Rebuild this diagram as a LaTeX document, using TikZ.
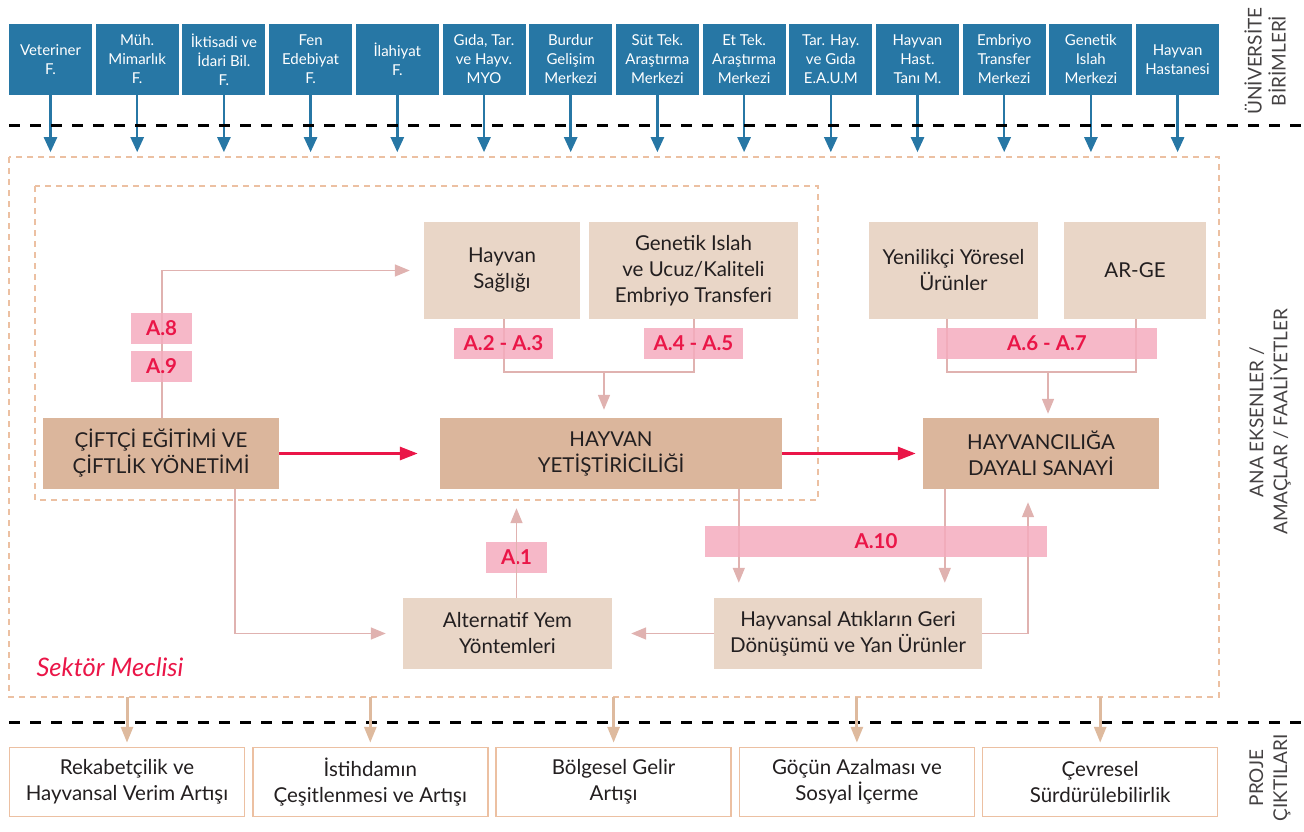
\documentclass[tikz,border=0pt]{standalone}
\usepackage{fontspec}
\setmainfont{Lato}
\usetikzlibrary{arrows.meta,positioning}
\definecolor{uniblue}{RGB}{39,119,165}
\definecolor{lightbeige}{RGB}{233,214,199}
\definecolor{darkbeige}{RGB}{219,182,156}
\definecolor{labelpink}{RGB}{245,172,190}
\definecolor{crimson}{RGB}{234,22,72}
\definecolor{linkpink}{RGB}{224,178,176}
\definecolor{peach}{RGB}{236,192,162}
\definecolor{tanline}{RGB}{222,186,158}
\definecolor{txt}{RGB}{35,31,32}
\tikzset{ unitbox/.style = { fill         = uniblue
                           , text         = white
                           , inner sep    = 0pt
                           , minimum width  = 83pt
                           , minimum height = 71pt
                           , align        = center
                           , font         = \fontsize{15}{19}\selectfont
                           },
          topic/.style = { fill         = lightbeige
                         , text         = txt
                         , inner sep    = 0pt
                         , minimum height = 97pt
                         , align        = center
                         , font         = \fontsize{20.5}{26}\selectfont
                         },
          core/.style = { topic
                        , fill         = darkbeige
                        , minimum height = 71pt
                        },
          actlabel/.style = { fill         = labelpink
                            , fill opacity = 0.85
                            , text opacity = 1
                            , text         = crimson
                            , inner sep    = 0pt
                            , minimum height = 31pt
                            , font         = \fontsize{20.5}{22}\selectfont\bfseries
                            },
          outcome/.style = { draw         = peach
                           , line width   = 1.5pt
                           , fill         = white
                           , text         = txt
                           , inner sep    = 0pt
                           , minimum width  = 235pt
                           , minimum height = 69pt
                           , align        = center
                           , font         = \fontsize{20.5}{26}\selectfont
                           },
          sidelabel/.style = { rotate = 90
                             , align  = center
                             , text   = txt!85
                             , font   = \fontsize{19}{24}\selectfont
                             },
          link/.style = { draw = linkpink, line width = 1.6pt
                        , -{Triangle[length=15pt,width=12pt]} },
          plainlink/.style = { draw = linkpink, line width = 1.6pt },
          flow/.style = { draw = crimson, line width = 3pt
                        , -{Triangle[length=18pt,width=13pt]} },
          supply/.style = { draw = uniblue, line width = 2.5pt
                          , -{Triangle[length=15pt,width=13pt]} },
          yield/.style = { draw = tanline, line width = 3pt
                         , -{Triangle[length=16pt,width=12pt]} },
          sectorframe/.style = { draw = peach, line width = 1.5pt
                               , dash pattern = on 6pt off 5pt },
          divider/.style = { draw = black, line width = 3pt
                           , dash pattern = on 11pt off 10pt }
        }
\begin{document}
\begin{tikzpicture}[x=1pt, y=-1pt]
\useasboundingbox (0,0) rectangle (1304,832);

% universite birimleri
\foreach \t [count=\i] in {{Veteriner\\F.}, {Müh.\\Mimarlık\\F.}, {İktisadi ve\\İdari Bil.\\F.},
                           {Fen\\Edebiyat\\F.}, {İlahiyat\\F.}, {Gıda, Tar.\\ve Hayv.\\MYO},
                           {Burdur\\Gelişim\\Merkezi}, {Süt Tek.\\Araştırma\\Merkezi},
                           {Et Tek.\\Araştırma\\Merkezi}, {Tar. Hay.\\ve Gıda\\E.A.U.M},
                           {Hayvan\\Hast.\\Tanı M.}, {Embriyo\\Transfer\\Merkezi},
                           {Genetik\\Islah\\Merkezi}, {Hayvan\\Hastanesi}}
{
    \node[unitbox] (u\i) at ({50.5+86.7*(\i-1)}, 59.5) {\t};
    \draw[supply] (u\i.south) -- ++(0,57);
}

\draw[divider] (9,126) -- (1304,126);
\draw[divider] (9,722) -- (1304,722);
\draw[sectorframe] (9,157) rectangle (1219,697);
\draw[sectorframe] (35,186) rectangle (818,500);
\coordinate (framebottom) at (0,697);

% eksenler
\node[topic, minimum width=156pt] (health)   at (502,270.5)    {Hayvan\\Sağlığı};
\node[topic, minimum width=209pt] (genetic)  at (693.5,270.5)  {Genetik Islah\\ve Ucuz/Kaliteli\\Embriyo Transferi};
\node[topic, minimum width=169pt] (local)    at (953.5,270.5)  {Yenilikçi Yöresel\\Ürünler};
\node[topic, minimum width=142pt] (rnd)      at (1135,270.5)   {AR-GE};
\node[core,  minimum width=236pt] (farmer)   at (161,453.5)    {ÇİFTÇİ EĞİTİMİ VE\\ÇİFTLİK YÖNETİMİ};
\node[core,  minimum width=342pt] (breeding) at (611,453.5)    {HAYVAN\\YETİŞTİRİCİLİĞİ};
\node[core,  minimum width=236pt] (industry) at (1041,453.5)   {HAYVANCILIĞA\\DAYALI SANAYİ};
\node[topic, minimum width=209pt, minimum height=71pt] (feed)  at (507.5,633.5) {Alternatif Yem\\Yöntemleri};
\node[topic, minimum width=268pt, minimum height=71pt] (waste) at (848,633.5)   {Hayvansal Atıkların Geri\\Dönüşümü ve Yan Ürünler};

\node[text=crimson, font=\fontsize{25.5}{28}\selectfont\itshape] (council) at (110,667) {Sektör Meclisi};

% baglantilar
\draw[link] ([xshift=1pt]farmer.north) |- ([xshift=-14pt]health.west);
\draw[plainlink] ([xshift=2pt]health.south) -- ++(0,53) -| ([xshift=0.5pt]genetic.south);
\coordinate (hgjoin) at (604,372);
\draw[link, shorten >=8pt] (hgjoin) -- (hgjoin |- breeding.north);
\draw[plainlink] ([xshift=-6.5pt]local.south) -- ++(0,53) -| ([xshift=1pt]rnd.south);
\coordinate (lrjoin) at (1048,372);
\draw[link, shorten >=4pt] (lrjoin) -- (lrjoin |- industry.north);
\draw[flow, shorten >=22pt] (farmer.east) -- (breeding.west);
\draw[flow, shorten >=7pt] (breeding.east) -- (industry.west);
\draw[link, shorten >=17pt] ([xshift=74pt]farmer.south) |- (feed.west);
\coordinate (bw) at ([xshift=25pt]waste.north west);
\coordinate (iw) at ([xshift=231pt]waste.north west);
\draw[link, shorten >=15pt] (breeding.south -| bw) -- (bw);
\draw[link, shorten >=15pt] (industry.south -| iw) -- (iw);
\draw[link, shorten >=13pt] (waste.east) -| ([xshift=-13pt]industry.south);
\draw[link, shorten >=19pt] (waste.west) -- (feed.east);

% faaliyetler
\node[actlabel, minimum width=61pt]  (a8)  at (161.5,328.5) {A.8};
\node[actlabel, minimum width=61pt]  (a9)  at (161.5,366.5) {A.9};
\node[actlabel, minimum width=99pt]  (a23) at (503.5,343.5) {A.2 - A.3};
\node[actlabel, minimum width=99pt]  (a45) at (693.5,343.5) {A.4 - A.5};
\node[actlabel, minimum width=220pt] (a67) at (1047,343.5)  {A.6 - A.7};
\node[actlabel, minimum width=61pt]  (a1)  at (516.5,557.5) {A.1};
\node[actlabel, minimum width=342pt] (a10) at (876,541.5)   {A.10};
\draw[link, shorten >=19pt] (feed.north -| a1) -- (breeding.south -| a1);

% proje ciktilari
\foreach \t [count=\i] in {{Rekabetçilik ve\\Hayvansal Verim Artışı}, {İstihdamın\\Çeşitlenmesi ve Artışı},
                           {Bölgesel Gelir\\Artışı}, {Göçün Azalması ve\\Sosyal İçerme},
                           {Çevresel\\Sürdürülebilirlik}}
{
    \node[outcome] (o\i) at ({127+243.3*(\i-1)}, 782) {\t};
    \draw[yield, shorten >=4pt] (o\i.north |- framebottom) -- (o\i.north);
}

\node[sidelabel] (unilbl)  at (1265,61)  {ÜNİVERSİTE\\BİRİMLERİ};
\node[sidelabel] (axislbl) at (1270,422) {ANA EKSENLER /\\AMAÇLAR / FAALİYETLER};
\node[sidelabel] (outlbl)  at (1270,778) {PROJE\\ÇIKTILARI};
\end{tikzpicture}
\end{document}
